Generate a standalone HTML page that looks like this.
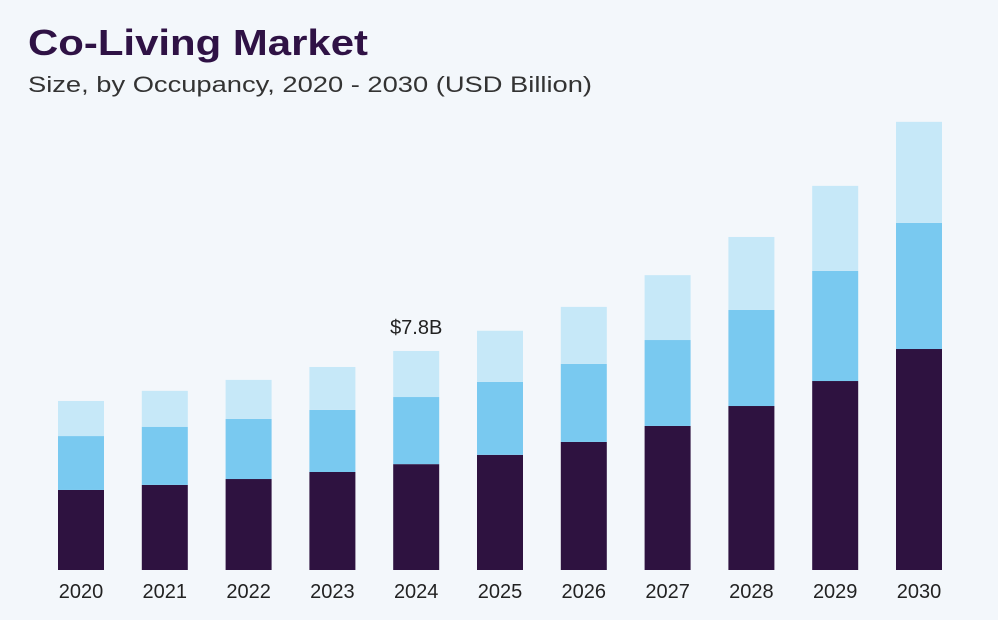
<!DOCTYPE html>
<html><head><meta charset="utf-8"><style>
html,body{margin:0;padding:0;background:#f3f7fb;}
svg{display:block;font-family:"Liberation Sans",sans-serif;}
</style></head><body>
<svg id="chart" width="998" height="620" viewBox="0 0 998 620">
<rect width="998" height="620" fill="#f3f7fb"/>
<text x="28" y="55" font-size="36" font-weight="bold" fill="#2f1245" textLength="340" lengthAdjust="spacingAndGlyphs">Co-Living Market</text>
<text x="28" y="92" font-size="22" fill="#333" textLength="564" lengthAdjust="spacingAndGlyphs">Size, by Occupancy, 2020 - 2030 (USD Billion)</text>
<g id="bars"></g>
<g id="labels"></g>
</svg>
<script>
const years = ["2020","2021","2022","2023","2024","2025","2026","2027","2028","2029","2030"];
const seriesA = [2.85,3.03,3.24,3.49,3.77,4.10,4.56,5.13,5.84,6.73,7.87];
const seriesB = [1.92,2.07,2.14,2.21,2.39,2.60,2.78,3.06,3.42,3.92,4.49];
const seriesC = [1.25,1.28,1.39,1.53,1.64,1.82,2.03,2.31,2.60,3.03,3.60];
const annotationIndex = 4;
const annotationText = "$7.8B";
const colors = ["#2e1240","#79c9f0","#c6e8f8"];
const baseY = 570, pxPer = 28.08, x0 = 58, step = 83.8, bw = 46;
const yScale = v => baseY - v * pxPer;
const xScale = i => x0 + i * step;
const NS = "http://www.w3.org/2000/svg";
const gb = document.getElementById("bars"), gl = document.getElementById("labels");
const series = [seriesA, seriesB, seriesC];
const names = ["dark","mid","light"];
years.forEach((yr, i) => {
  let cum = 0;
  series.forEach((s, k) => {
    const r = document.createElementNS(NS, "rect");
    
    
    const top = yScale(cum + s[i]);
    r.setAttribute("x", xScale(i)); r.setAttribute("width", bw);
    r.setAttribute("y", top); r.setAttribute("height", yScale(cum) - top);
    r.setAttribute("fill", colors[k]);
    gb.appendChild(r);
    cum += s[i];
  });
  const t = document.createElementNS(NS, "text");
  
  
  t.setAttribute("x", xScale(i) + bw / 2); t.setAttribute("y", 598);
  t.setAttribute("text-anchor", "middle"); t.setAttribute("font-size", "20"); t.setAttribute("fill", "#222");
  t.textContent = yr; gl.appendChild(t);
  if (i === annotationIndex) {
    const a = document.createElementNS(NS, "text");
    
    
    a.setAttribute("x", xScale(i) + bw / 2); a.setAttribute("y", yScale(cum) - 17);
    a.setAttribute("text-anchor", "middle"); a.setAttribute("font-size", "20"); a.setAttribute("fill", "#222");
    a.textContent = annotationText; gl.appendChild(a);
  }
});
</script>
</body></html>
